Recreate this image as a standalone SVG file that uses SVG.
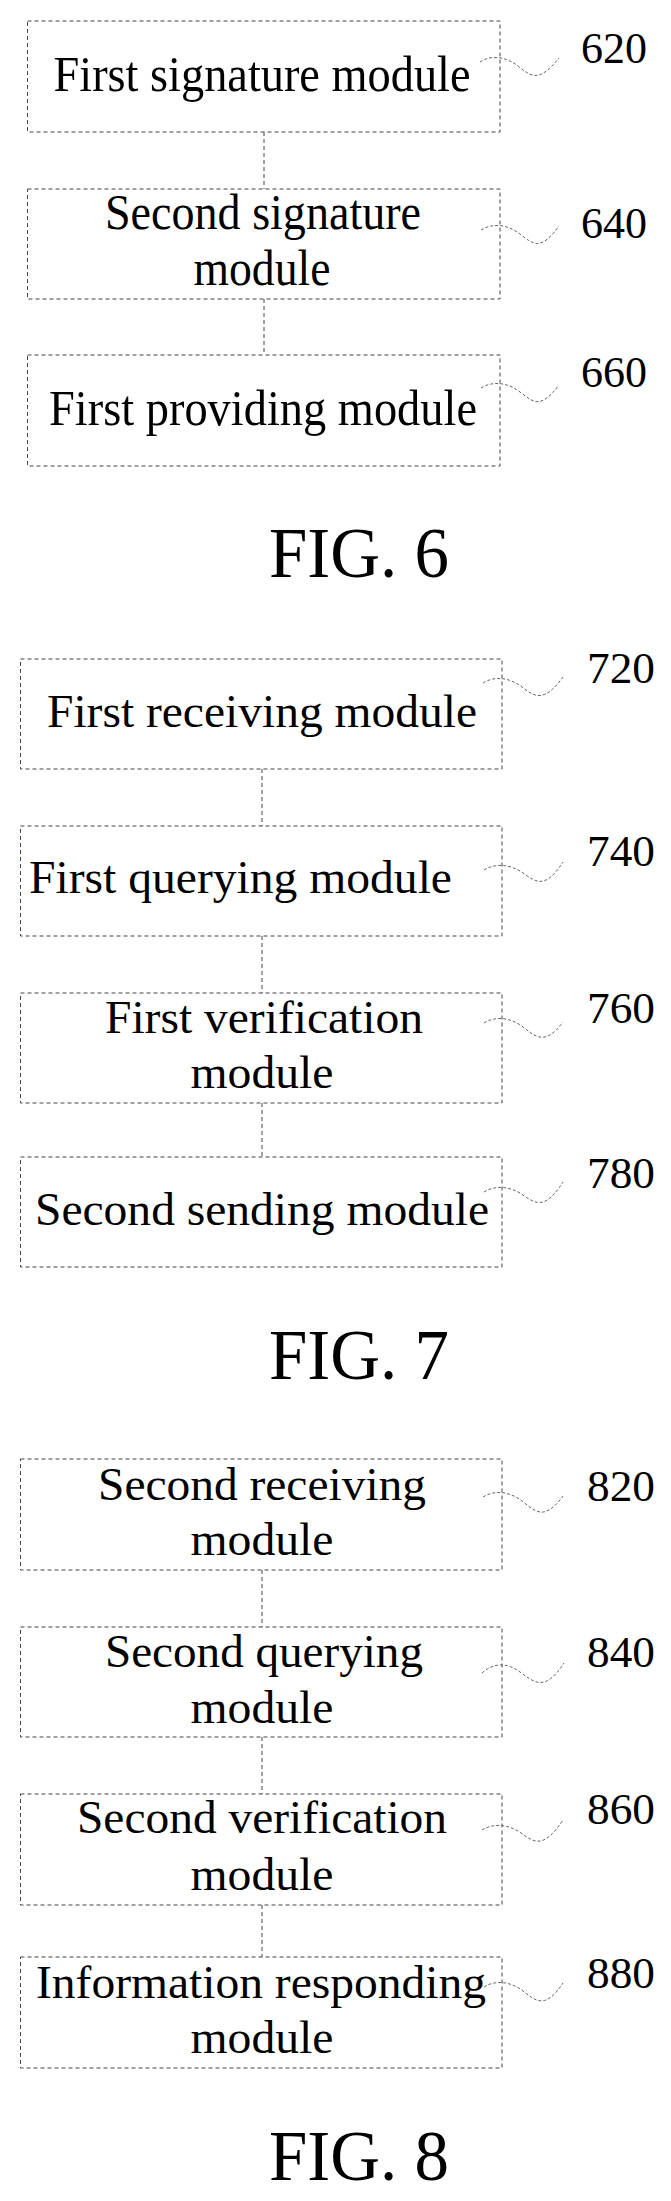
<svg xmlns="http://www.w3.org/2000/svg" width="671" height="2201" viewBox="0 0 671 2201">
<style>
.b{fill:none;stroke:#444;stroke-width:1;stroke-dasharray:4,3}
.c{fill:none;stroke:#444;stroke-width:1;stroke-dasharray:4,3}
.s{fill:none;stroke:#666;stroke-width:1;stroke-dasharray:3,2}
text{font-family:"Liberation Serif","Times New Roman",serif;fill:#000}
.t{font-size:46px;text-anchor:middle}
.t6{font-size:50px;text-anchor:middle}
.n{font-size:44px}
.f{font-size:72px}
</style>
<rect width="671" height="2201" fill="#fff"/>
<g id="connectors">
<line class="c" x1="264" y1="132" x2="264" y2="189"/>
<line class="c" x1="264" y1="299" x2="264" y2="355"/>
<line class="c" x1="262" y1="769" x2="262" y2="826"/>
<line class="c" x1="262" y1="936" x2="262" y2="993"/>
<line class="c" x1="262" y1="1103" x2="262" y2="1157"/>
<line class="c" x1="262" y1="1570" x2="262" y2="1627"/>
<line class="c" x1="262" y1="1737" x2="262" y2="1794"/>
<line class="c" x1="262" y1="1905" x2="262" y2="1957"/>
</g>
<g id="n620"><rect class="b" x="27.5" y="21" width="472.5" height="111"/><text class="t6" x="262" y="91" textLength="417" lengthAdjust="spacingAndGlyphs">First signature module</text><path class="s" d="M480,62 C490,55 505,56 518,66 S538,84 559,58"/><text class="n" x="581" y="63" textLength="66" lengthAdjust="spacingAndGlyphs">620</text></g>
<g id="n640"><rect class="b" x="27.5" y="189" width="472.5" height="110"/><text class="t6" x="263" y="229" textLength="316" lengthAdjust="spacingAndGlyphs">Second signature</text><text class="t6" x="262" y="285" textLength="137" lengthAdjust="spacingAndGlyphs">module</text><path class="s" d="M481,230 C492,223 507,224 520,234 S540,252 559,226"/><text class="n" x="581" y="238" textLength="66" lengthAdjust="spacingAndGlyphs">640</text></g>
<g id="n660"><rect class="b" x="27.5" y="355" width="472.5" height="111"/><text class="t6" x="263" y="425" textLength="428" lengthAdjust="spacingAndGlyphs">First providing module</text><path class="s" d="M481,388 C492,381 507,382 520,392 S540,410 559,385"/><text class="n" x="581" y="387" textLength="66" lengthAdjust="spacingAndGlyphs">660</text></g>
<text class="f" x="269" y="577" textLength="180" lengthAdjust="spacingAndGlyphs">FIG. 6</text>

<g id="n720"><rect class="b" x="20.5" y="659" width="481.5" height="110"/><text class="t" x="262" y="727" textLength="430" lengthAdjust="spacingAndGlyphs">First receiving module</text><path class="s" d="M483,683 C494,676 509,677 522,687 S544,703 563,677"/><text class="n" x="587" y="683" textLength="68" lengthAdjust="spacingAndGlyphs">720</text></g>
<g id="n740"><rect class="b" x="20.5" y="826" width="481.5" height="110"/><text class="t" x="29" y="893" style="text-anchor:start" textLength="423" lengthAdjust="spacingAndGlyphs">First querying module</text><path class="s" d="M484,870 C495,863 510,864 523,873 S545,890 563,862"/><text class="n" x="587" y="866" textLength="68" lengthAdjust="spacingAndGlyphs">740</text></g>
<g id="n760"><rect class="b" x="20.5" y="993" width="481.5" height="110"/><text class="t" x="264" y="1033" textLength="318" lengthAdjust="spacingAndGlyphs">First verification</text><text class="t" x="262" y="1088" textLength="143" lengthAdjust="spacingAndGlyphs">module</text><path class="s" d="M484,1023 C495,1016 510,1017 523,1027 S545,1046 563,1022"/><text class="n" x="587" y="1023" textLength="68" lengthAdjust="spacingAndGlyphs">760</text></g>
<g id="n780"><rect class="b" x="20.5" y="1157" width="481.5" height="110"/><text class="t" x="262" y="1225" textLength="454" lengthAdjust="spacingAndGlyphs">Second sending module</text><path class="s" d="M484,1192 C495,1185 510,1186 523,1195 S545,1210 563,1182"/><text class="n" x="587" y="1188" textLength="68" lengthAdjust="spacingAndGlyphs">780</text></g>
<text class="f" x="269" y="1379" textLength="180" lengthAdjust="spacingAndGlyphs">FIG. 7</text>

<g id="n820"><rect class="b" x="20.5" y="1459" width="481.5" height="111"/><text class="t" x="262" y="1500" textLength="328" lengthAdjust="spacingAndGlyphs">Second receiving</text><text class="t" x="262" y="1555" textLength="143" lengthAdjust="spacingAndGlyphs">module</text><path class="s" d="M483,1497 C494,1490 509,1491 522,1501 S544,1522 563,1496"/><text class="n" x="587" y="1501" textLength="68" lengthAdjust="spacingAndGlyphs">820</text></g>
<g id="n840"><rect class="b" x="20.5" y="1627" width="481.5" height="110"/><text class="t" x="264" y="1667" textLength="318" lengthAdjust="spacingAndGlyphs">Second querying</text><text class="t" x="262" y="1723" textLength="143" lengthAdjust="spacingAndGlyphs">module</text><path class="s" d="M482,1673 C492,1664 505,1661 520,1672 S545,1692 564,1663"/><text class="n" x="587" y="1667" textLength="68" lengthAdjust="spacingAndGlyphs">840</text></g>
<g id="n860"><rect class="b" x="20.5" y="1794" width="481.5" height="111"/><text class="t" x="262" y="1833" textLength="370" lengthAdjust="spacingAndGlyphs">Second verification</text><text class="t" x="262" y="1890" textLength="143" lengthAdjust="spacingAndGlyphs">module</text><path class="s" d="M482,1830 C493,1823 508,1824 521,1833 S543,1850 563,1820"/><text class="n" x="587" y="1824" textLength="68" lengthAdjust="spacingAndGlyphs">860</text></g>
<g id="n880"><rect class="b" x="20.5" y="1957" width="481.5" height="111"/><text class="t" x="261" y="1998" textLength="450" lengthAdjust="spacingAndGlyphs">Information responding</text><text class="t" x="262" y="2053" textLength="143" lengthAdjust="spacingAndGlyphs">module</text><path class="s" d="M484,1987 C495,1980 510,1981 523,1991 S545,2010 563,1983"/><text class="n" x="587" y="1988" textLength="68" lengthAdjust="spacingAndGlyphs">880</text></g>
<text class="f" x="269" y="2180" textLength="180" lengthAdjust="spacingAndGlyphs">FIG. 8</text>
</svg>
